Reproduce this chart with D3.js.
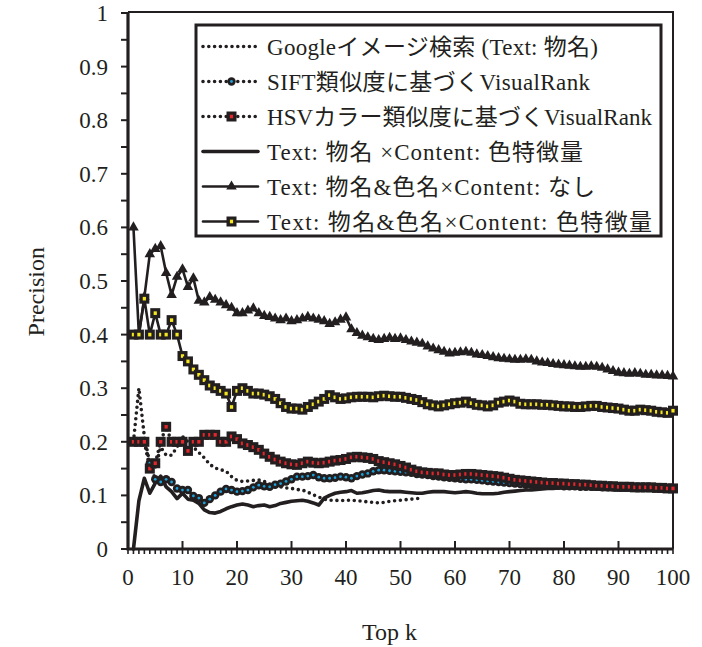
<!DOCTYPE html>
<html>
<head>
<meta charset="utf-8">
<script src="https://cdn.jsdelivr.net/npm/d3@7"></script>
<style>
  body { margin: 0; background: #fff; }
  text { font-family: "Liberation Serif", "Noto Sans CJK JP", serif; fill: #231f20; }
</style>
</head>
<body>
<svg id="chart" width="702" height="647"></svg>
<script>
// precision at top-k, k = 1..100
const googleImg = [
  0.20, 0.30, 0.21, 0.16, 0.15, 0.19, 0.175, 0.175, 0.19, 0.21,
  0.20, 0.19, 0.18, 0.17, 0.158, 0.151, 0.148, 0.145, 0.135, 0.128,
  0.126, 0.127, 0.128, 0.129, 0.126, 0.121, 0.118, 0.116, 0.114, 0.113,
  0.111, 0.11, 0.106, 0.101, 0.097, 0.093, 0.091, 0.091, 0.09, 0.091,
  0.091, 0.09, 0.089, 0.088, 0.087, 0.086, 0.087, 0.089, 0.09, 0.091,
  0.092, 0.093, 0.094, 0.095
];
const siftRank = [
  0.20, 0.20, 0.20, 0.16, 0.13, 0.125, 0.13, 0.125, 0.113, 0.11,
  0.11, 0.099, 0.095, 0.086, 0.093, 0.10, 0.107, 0.112, 0.11, 0.107,
  0.108, 0.11, 0.115, 0.119, 0.117, 0.116, 0.12, 0.122, 0.126, 0.13,
  0.135, 0.135, 0.136, 0.138, 0.134, 0.132, 0.132, 0.133, 0.135, 0.134,
  0.132, 0.136, 0.139, 0.141, 0.145, 0.147, 0.147, 0.146, 0.145, 0.144,
  0.143, 0.142, 0.14, 0.139, 0.138, 0.136, 0.135, 0.134, 0.133, 0.132,
  0.131, 0.13, 0.13, 0.129, 0.128, 0.127, 0.126, 0.125, 0.124, 0.123,
  0.122, 0.121, 0.12, 0.12, 0.119, 0.119, 0.118, 0.118, 0.118, 0.117,
  0.117, 0.117, 0.116, 0.116, 0.116, 0.116, 0.115, 0.115, 0.115, 0.115,
  0.115, 0.115, 0.114, 0.114, 0.114, 0.114, 0.114, 0.113, 0.113, 0.113
];
const hsvRank = [
  0.20, 0.20, 0.20, 0.15, 0.16, 0.20, 0.228, 0.20, 0.20, 0.20,
  0.183, 0.20, 0.20, 0.213, 0.213, 0.213, 0.20, 0.20, 0.21, 0.205,
  0.197, 0.194, 0.19, 0.185, 0.178, 0.172, 0.167, 0.163, 0.16, 0.158,
  0.157, 0.16, 0.163, 0.161, 0.16, 0.161, 0.163, 0.165, 0.166, 0.168,
  0.171, 0.172, 0.171, 0.17, 0.168, 0.164, 0.162, 0.16, 0.158, 0.155,
  0.152, 0.148, 0.145, 0.143, 0.142, 0.141, 0.141, 0.139, 0.138, 0.138,
  0.139, 0.14, 0.14, 0.139, 0.138, 0.137, 0.136, 0.135, 0.133, 0.131,
  0.129, 0.128, 0.127, 0.126, 0.125, 0.124, 0.123, 0.123, 0.122, 0.122,
  0.121, 0.121, 0.12, 0.12, 0.119, 0.118, 0.118, 0.117, 0.117, 0.116,
  0.116, 0.116, 0.115, 0.115, 0.115, 0.115, 0.114, 0.114, 0.113, 0.113
];
const textColor = [
  0, 0.09, 0.132, 0.104, 0.123, 0.136, 0.116, 0.107, 0.094, 0.104,
  0.093, 0.091, 0.085, 0.073, 0.068, 0.067, 0.07, 0.075, 0.079, 0.082,
  0.084, 0.082, 0.079, 0.081, 0.082, 0.079, 0.081, 0.085, 0.087, 0.089,
  0.09, 0.091, 0.089, 0.086, 0.082, 0.095, 0.10, 0.104, 0.106, 0.107,
  0.109, 0.104, 0.105, 0.107, 0.109, 0.11, 0.108, 0.107, 0.107, 0.107,
  0.106, 0.105, 0.104, 0.104, 0.106, 0.107, 0.107, 0.107, 0.106, 0.105,
  0.106, 0.107, 0.106, 0.104, 0.103, 0.103, 0.103, 0.104, 0.106, 0.107,
  0.108, 0.109, 0.11, 0.11, 0.111, 0.112, 0.113, 0.113, 0.114, 0.114,
  0.114, 0.114, 0.113, 0.113, 0.113, 0.112, 0.112, 0.112, 0.111, 0.111,
  0.111, 0.111, 0.111, 0.11, 0.11, 0.11, 0.11, 0.11, 0.11, 0.11
];
const textColorName = [
  0.60, 0.40, 0.47, 0.55, 0.56, 0.565, 0.515, 0.474, 0.508, 0.522,
  0.489, 0.505, 0.463, 0.46, 0.47, 0.465, 0.46, 0.455, 0.45, 0.44,
  0.44, 0.445, 0.449, 0.44, 0.435, 0.433, 0.43, 0.427, 0.43, 0.425,
  0.427, 0.43, 0.433, 0.43, 0.428, 0.425, 0.42, 0.423, 0.428, 0.432,
  0.41, 0.403, 0.398, 0.395, 0.392, 0.39, 0.392, 0.394, 0.392, 0.393,
  0.39, 0.387, 0.385, 0.383, 0.378, 0.374, 0.371, 0.368, 0.365, 0.366,
  0.367, 0.368, 0.366, 0.363, 0.362, 0.36, 0.358, 0.356, 0.355, 0.354,
  0.353, 0.353, 0.354, 0.353, 0.35, 0.348, 0.347, 0.345, 0.344, 0.343,
  0.342, 0.341, 0.34, 0.34, 0.341, 0.34, 0.338, 0.335, 0.332, 0.329,
  0.328, 0.327, 0.328, 0.327, 0.325, 0.325, 0.324, 0.324, 0.323, 0.322
];
const textColorNameColor = [
  0.40, 0.40, 0.467, 0.40, 0.44, 0.40, 0.40, 0.427, 0.40, 0.36,
  0.35, 0.335, 0.325, 0.315, 0.305, 0.30, 0.295, 0.29, 0.265, 0.295,
  0.30, 0.295, 0.29, 0.29, 0.288, 0.285, 0.28, 0.272, 0.265, 0.262,
  0.262, 0.26, 0.265, 0.27, 0.275, 0.28, 0.287, 0.283, 0.28, 0.281,
  0.283, 0.284, 0.284, 0.284, 0.283, 0.285, 0.286, 0.285, 0.284, 0.284,
  0.282, 0.28, 0.278, 0.274, 0.27, 0.268, 0.266, 0.268, 0.27, 0.272,
  0.273, 0.275, 0.272, 0.269, 0.268, 0.266, 0.268, 0.273, 0.275, 0.277,
  0.275, 0.271, 0.27, 0.27, 0.27, 0.269, 0.269, 0.268, 0.267, 0.266,
  0.266, 0.265, 0.265, 0.266, 0.267, 0.267, 0.265, 0.264, 0.263, 0.262,
  0.26, 0.258, 0.258, 0.26, 0.259, 0.258, 0.256, 0.255, 0.254, 0.258
];

const legendLabels = [
  'Googleイメージ検索 (Text: 物名)',
  'SIFT類似度に基づくVisualRank',
  'HSVカラー類似度に基づくVisualRank',
  'Text: 物名 ×Content: 色特徴量',
  'Text: 物名&色名×Content: なし',
  'Text: 物名&色名×Content: 色特徴量'
];
const xTicks = [0, 10, 20, 30, 40, 50, 60, 70, 80, 90, 100];
const yTicks = [0, 0.1, 0.2, 0.3, 0.4, 0.5, 0.6, 0.7, 0.8, 0.9, 1];

const ink = '#231f20';
const margin = { top: 13, right: 29, bottom: 98, left: 128 };
const width = 702 - margin.left - margin.right;
const height = 647 - margin.top - margin.bottom;

const x = d3.scaleLinear().domain([0, 100]).range([0, width]);
const y = d3.scaleLinear().domain([0, 1]).range([height, 0]);

const svg = d3.select('#chart');
const g = svg.append('g').attr('transform', `translate(${margin.left},${margin.top})`);

const toPoints = arr => arr.map((v, i) => ({ k: i + 1, v }));
const line = d3.line().x(d => x(d.k)).y(d => y(d.v));

// marker painters, used both in the plot and the legend
const markers = {
  none: () => {},
  circle: (sel, fill) => {
    sel.append('circle').attr('r', 4.2).attr('fill', ink);
    sel.append('circle').attr('r', 1.4).attr('fill', fill);
  },
  square: (sel, fill) => {
    sel.append('rect').attr('x', -5).attr('y', -5).attr('width', 10).attr('height', 10).attr('fill', ink);
    sel.append('rect').attr('x', -1.6).attr('y', -1.8).attr('width', 3.2).attr('height', 3.6).attr('fill', fill);
  },
  triangle: sel => {
    sel.append('path').attr('d', d3.symbol(d3.symbolTriangle, 48)()).attr('fill', ink);
  }
};

const series = [
  { name: legendLabels[0], data: googleImg, dash: true, width: 3.6, marker: 'none', textLen: 331 },
  { name: legendLabels[3], data: textColor, dash: false, width: 3.6, marker: 'none', textLen: 316 },
  { name: legendLabels[1], data: siftRank, dash: true, width: 3.6, marker: 'circle', fill: '#1da1db', textLen: 323 },
  { name: legendLabels[2], data: hsvRank, dash: true, width: 3.6, marker: 'square', fill: '#e3262b', textLen: 385 },
  { name: legendLabels[4], data: textColorName, dash: false, width: 2.6, marker: 'triangle', textLen: 328 },
  { name: legendLabels[5], data: textColorNameColor, dash: false, width: 2.6, marker: 'square', fill: '#f6e61c', textLen: 385 }
];
const dotPattern = '0 5.8';

// Frame: top and right edges of the plot box
g.append('path')
  .attr('d', `M0,-1H${width}V${height}`)
  .attr('fill', 'none')
  .attr('stroke', ink)
  .attr('stroke-width', 2);

// Y axis ticks every 0.05, labels every 0.1
g.append('g').selectAll('line')
  .data(d3.range(0, 21).map(i => i * 0.05))
  .enter().append('line')
  .attr('x1', -7).attr('x2', 0)
  .attr('y1', d => y(d)).attr('y2', d => y(d))
  .attr('stroke', ink).attr('stroke-width', 2);

g.append('g').selectAll('text')
  .data(yTicks)
  .enter().append('text')
  .attr('x', -20)
  .attr('y', d => y(d))
  .attr('dy', '0.35em')
  .attr('text-anchor', 'end')
  .attr('font-size', 23)
  .text(d => d3.format('~g')(d));

// X axis: minor ticks below, major ticks above
g.append('g').selectAll('line')
  .data(d3.range(0, 101))
  .enter().append('line')
  .attr('x1', d => x(d)).attr('x2', d => x(d))
  .attr('y1', height).attr('y2', height + 5)
  .attr('stroke', ink).attr('stroke-width', 1.6);

g.append('g').selectAll('line')
  .data(xTicks)
  .enter().append('line')
  .attr('x1', d => x(d)).attr('x2', d => x(d))
  .attr('y1', height - 8).attr('y2', height)
  .attr('stroke', ink).attr('stroke-width', 2);

g.append('g').selectAll('text')
  .data(xTicks)
  .enter().append('text')
  .attr('x', d => x(d))
  .attr('y', height + 36)
  .attr('text-anchor', 'middle')
  .attr('font-size', 23)
  .text(d => d);

g.append('path')
  .attr('d', `M0,-1V${height}H${width}`)
  .attr('fill', 'none')
  .attr('stroke', ink)
  .attr('stroke-width', 3.2);

svg.append('text')
  .attr('transform', `translate(36,${margin.top + y(0.48)}) rotate(-90)`)
  .attr('text-anchor', 'middle')
  .attr('dy', '0.35em')
  .attr('font-size', 24)
  .text('Precision');

svg.append('text')
  .attr('x', margin.left + x(48))
  .attr('y', 640)
  .attr('text-anchor', 'middle')
  .attr('font-size', 24)
  .text('Top k');

// Series lines and markers
series.forEach(s => {
  const pts = toPoints(s.data);
  g.append('path')
    .datum(pts)
    .attr('d', line)
    .attr('fill', 'none')
    .attr('stroke', ink)
    .attr('stroke-width', s.width)
    .attr('stroke-linejoin', 'round')
    .attr('stroke-linecap', 'round')
    .attr('stroke-dasharray', s.dash ? dotPattern : null);

  g.append('g').selectAll('g')
    .data(s.marker === 'none' ? [] : pts)
    .enter().append('g')
    .attr('transform', d => `translate(${x(d.k)},${y(d.v)})`)
    .each(function draw() { markers[s.marker](d3.select(this), s.fill); });
});

// Legend
const legend = svg.append('g').attr('transform', 'translate(196,25)');
legend.append('rect')
  .attr('width', 465).attr('height', 211)
  .attr('fill', '#fff')
  .attr('stroke', ink).attr('stroke-width', 3);

const rowOrder = [0, 2, 3, 1, 4, 5];
rowOrder.forEach((si, row) => {
  const s = series[si];
  const cy = 21.5 + row * 35;
  const item = legend.append('g').attr('transform', `translate(0,${cy})`);
  item.append('line')
    .attr('x1', 7).attr('x2', 62)
    .attr('stroke', ink)
    .attr('stroke-width', s.width)
    .attr('stroke-linecap', 'round')
    .attr('stroke-dasharray', s.dash ? dotPattern : null);
  const m = item.append('g').attr('transform', 'translate(35.5,0)');
  markers[s.marker](m, s.fill);
  item.append('text')
    .attr('x', 71)
    .attr('dy', '0.35em')
    .attr('font-size', 23)
    .attr('textLength', s.textLen)
    .attr('lengthAdjust', 'spacing')
    .text(s.name);
});
</script>
</body>
</html>
